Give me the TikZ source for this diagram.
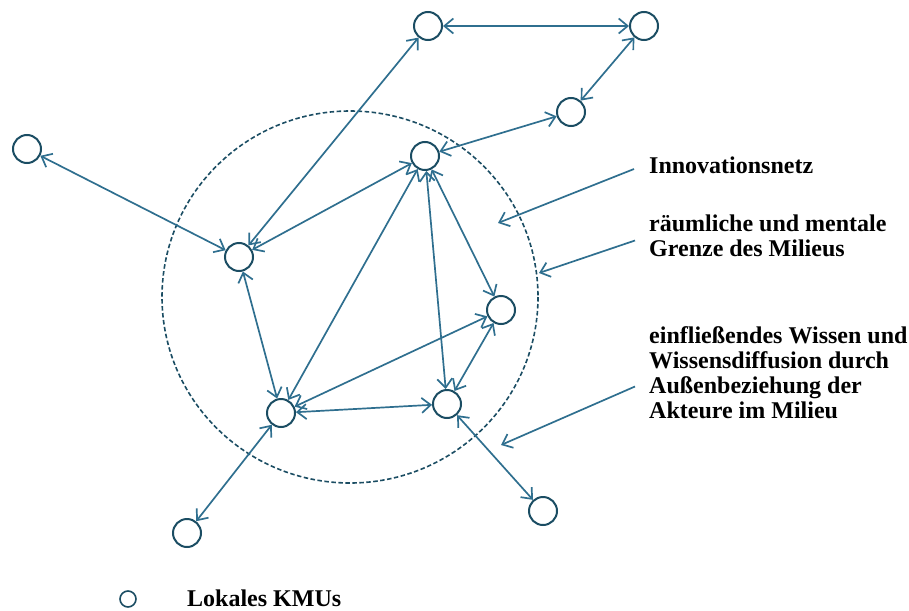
\documentclass[tikz,border=0pt]{standalone}
\usepackage{fontspec}
\setmainfont{Liberation Serif}
\usetikzlibrary{arrows.meta, positioning}
\definecolor{linkblue}{HTML}{2F6F8F}
\definecolor{rimblue}{HTML}{1B4D63}

\begin{document}
\begin{tikzpicture}[
    x=1pt, y=-1pt,
    kmu/.style={draw=rimblue, circle, line width=2pt, minimum size=28pt, inner sep=0pt},
    link/.style={{Straight Barb[length=9pt,width=15pt]}-{Straight Barb[length=9pt,width=15pt]}, line width=1.7pt, linkblue},
    pointer/.style={-{Straight Barb[length=9pt,width=15pt]}, line width=1.7pt, linkblue},
    note/.style={font=\fontsize{24}{25}\selectfont\bfseries, align=left, anchor=west, inner sep=0pt}
  ]
    \useasboundingbox (0,0) rectangle (909,610);

    % Milieu boundary
    \draw[rimblue, line width=1.6pt, dash pattern=on 4.5pt off 2.5pt] (350,297) ellipse [x radius=188, y radius=186];

    % KMUs
    \node[kmu] (k1) at (428,26) {};
    \node[kmu] (k2) at (644,26) {};
    \node[kmu] (k3) at (571,112) {};
    \node[kmu] (k4) at (27,149) {};
    \node[kmu] (k5) at (425,156) {};
    \node[kmu] (k6) at (239,257) {};
    \node[kmu] (k7) at (501,310) {};
    \node[kmu] (k8) at (281,413) {};
    \node[kmu] (k9) at (447,404) {};
    \node[kmu] (k10) at (187,533) {};
    \node[kmu] (k11) at (543,511) {};

    % Links
    \draw[link] (k1) -- (k2);
    \draw[link] (k2) -- (k3);
    \draw[link] (k1) -- (k6);
    \draw[link] (k5) -- (k3);
    \draw[link] (k4) -- (k6);
    \draw[link] (k6) -- (k5);
    \draw[link] (k6) -- (k8);
    \draw[link] (k5) -- (k8);
    \draw[link] (k5) -- (k9);
    \draw[link] (k5) -- (k7);
    \draw[link] (k8) -- (k7);
    \draw[link] (k8) -- (k9);
    \draw[link] (k7) -- (k9);
    \draw[link] (k8) -- (k10);
    \draw[link] (k9) -- (k11);

    % Notes
    \node[note] (netz) at (649,165) {Innovationsnetz};
    \node[note] (grenze) at (649,235.5) {räumliche und mentale\\Grenze des Milieus};
    \node[note] (wissen) at (649,372.5) {einfließendes Wissen und\\Wissensdiffusion durch\\Außenbeziehung der\\Akteure im Milieu};

    \coordinate (netztip) at (498,223);
    \coordinate (grenzetip) at (539,273);
    \coordinate (wissentip) at (501,445);

    \draw[pointer] ([xshift=-15pt,yshift=-4pt]netz.west) -- (netztip);
    \draw[pointer] ([xshift=-14pt,yshift=-5pt]grenze.west) -- (grenzetip);
    \draw[pointer] ([xshift=-14pt,yshift=-14pt]wissen.west) -- (wissentip);

    % Legend
    \node[kmu, minimum size=16pt, line width=1.6pt] (key) at (128,599) {};
    \node[note] (keytext) at (187,598) {Lokales KMUs};
  \end{tikzpicture}
\end{document}
